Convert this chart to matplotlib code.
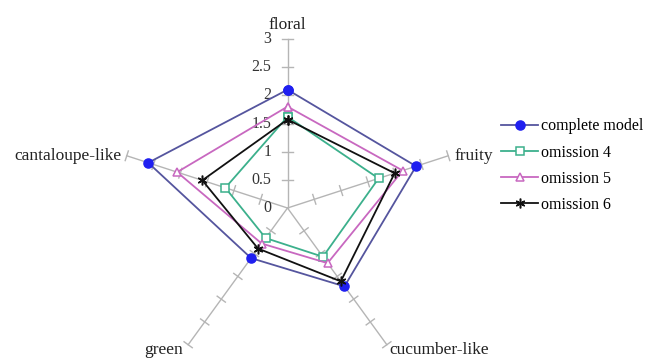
import numpy as np
import matplotlib
matplotlib.use("Agg")
import matplotlib.pyplot as plt
from matplotlib import transforms

plt.rcParams["font.family"] = ["Liberation Serif", "DejaVu Serif"]

# ---------------------------------------------------------------------------
# Data
# ---------------------------------------------------------------------------
attributes = ["floral", "fruity", "cucumber-like", "green", "cantaloupe-like"]
complete_model = [2.1, 2.4, 1.72, 1.1, 2.6]
omission_4 = [1.62, 1.7, 1.07, 0.66, 1.16]
omission_5 = [1.8, 2.15, 1.21, 0.78, 2.06]
omission_6 = [1.57, 2.0, 1.61, 0.89, 1.59]
radial_ticks = [0, 0.5, 1, 1.5, 2, 2.5, 3]
tick_labels = ["0", "0.5", "1", "1.5", "2", "2.5", "3"]

series = [
    ("complete model", complete_model, "#55559e", "o", "#1f1ff0", "#1f1ff0", 6.5),
    ("omission 4", omission_4, "#3cb08c", "s", "white", "#3cb08c", 5.5),
    ("omission 5", omission_5, "#c868c0", "^", "white", "#c868c0", 6),
    ("omission 6", omission_6, "#111111", (6, 2, 0), "#111111", "#111111", 7),
]

# ---------------------------------------------------------------------------
# Figure
# ---------------------------------------------------------------------------
fig = plt.figure(figsize=(6.47, 3.59), dpi=100)
r_px = 169
cx, cy = 287.5, 208
ax = fig.add_axes([(cx - r_px) / 647, (359 - cy - r_px) / 359,
                   2 * r_px / 647, 2 * r_px / 359], projection="polar")
ax.set_theta_zero_location("N")
ax.set_theta_direction(-1)
ax.set_ylim(0, 3)
ax.set_axis_off()

n = len(attributes)
angles = np.arange(n) * 2 * np.pi / n

# radial axes with small perpendicular ticks
grey = "#b5b5b5"
half_w = 0.09
for a in angles:
    ax.plot([a, a], [0, 3], color=grey, lw=1, clip_on=False, zorder=1)
    for r in radial_ticks[1:]:
        d = np.arctan2(half_w, r)
        rr = np.hypot(r, half_w)
        ax.plot([a - d, a + d], [rr, rr], color=grey, lw=1, clip_on=False, zorder=1)

# tick labels on the floral axis
off = transforms.offset_copy(ax.transData, fig=fig, x=-16, y=0, units="dots")
for r, lab in zip(radial_ticks, tick_labels):
    ax.text(0, r, lab, transform=off, ha="right", va="center",
            fontsize=11.5, color="#333333")

# series
closed = np.append(angles, angles[0])
for label, vals, lc, mk, mfc, mec, ms in series:
    v = np.append(vals, vals[0])
    ax.plot(closed, v, color=lc, lw=1.3, marker=mk, markersize=ms,
            markerfacecolor=mfc, markeredgecolor=mec, markeredgewidth=1.1,
            label=label, clip_on=False, zorder=3)

# attribute labels: (pixel offset from the axis end, alignment)
label_fmt = [
    (0, 6, "center", "bottom"),
    (6, 0, "left", "center"),
    (3, -9, "left", "baseline"),
    (-5, -9, "right", "baseline"),
    (-5, 0, "right", "center"),
]
for a, name, (dx, dy, ha, va) in zip(angles, attributes, label_fmt):
    tr = transforms.offset_copy(ax.transData, fig=fig, x=dx, y=dy, units="dots")
    ax.text(a, 3, name, transform=tr, ha=ha, va=va, fontsize=12.5,
            color="#222222")

leg = fig.legend(loc="upper left", bbox_to_anchor=(495 / 647, 1 - 112 / 359),
                 frameon=False, fontsize=11.5, handlelength=2.3,
                 handletextpad=0.15, labelspacing=0.64, borderaxespad=0)

fig.savefig("out.png", dpi=100)
